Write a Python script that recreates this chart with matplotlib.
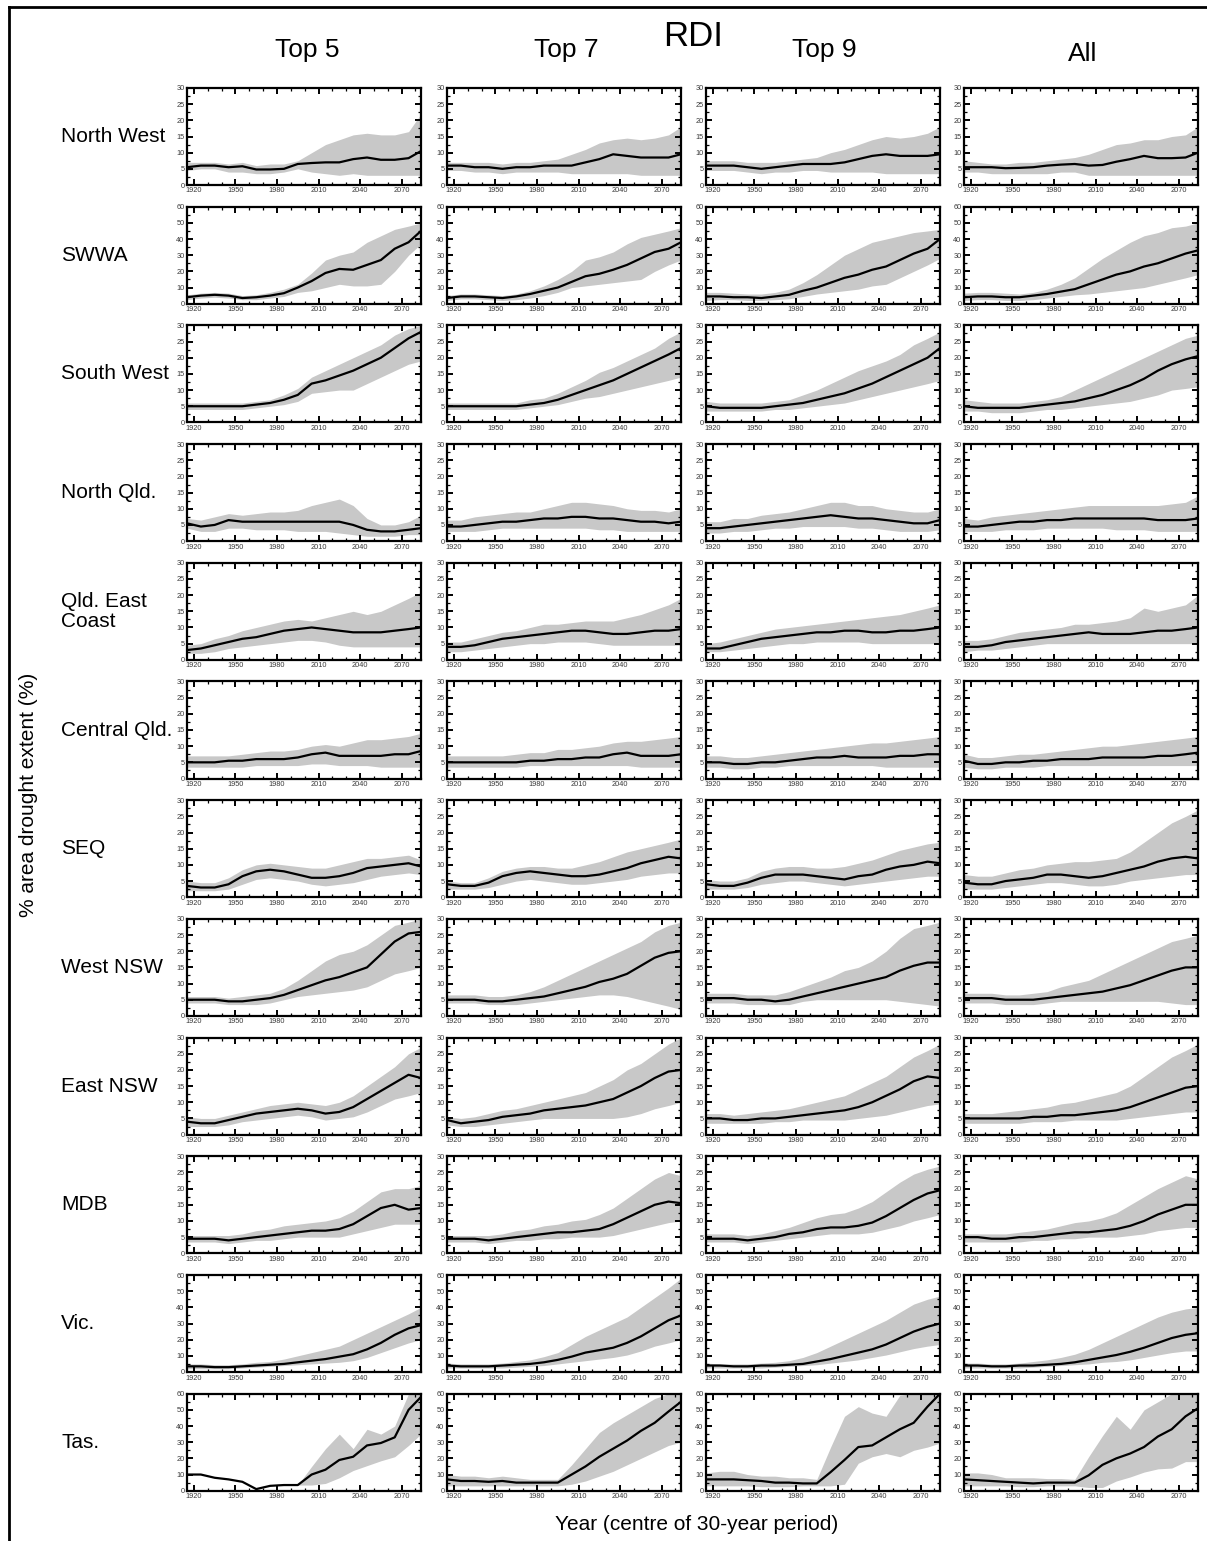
import matplotlib
matplotlib.use("Agg")
import matplotlib.pyplot as plt
from matplotlib.lines import Line2D
from matplotlib.ticker import MultipleLocator

plt.rcParams['font.family'] = ['Liberation Sans', 'DejaVu Sans']

# Centre year of each 30-year window
YEARS = [1915, 1925, 1935, 1945, 1955, 1965, 1975, 1985, 1995,
         2005, 2015, 2025, 2035, 2045, 2055, 2065, 2075, 2084]

GROUPS = ["Top 5", "Top 7", "Top 9", "All"]
REGIONS = ["North West", "SWWA", "South West", "North Qld.", "Qld. East\nCoast",
           "Central Qld.", "SEQ", "West NSW", "East NSW", "MDB", "Vic.", "Tas."]
Y_MAX = [30, 60, 30, 30, 30, 30, 30, 30, 30, 30, 60, 60]
X_TICKS = [1920, 1950, 1980, 2010, 2040, 2070]

# Each region: ensemble median and range for Top 5, Top 7, Top 9, All models
north_west_mid = [
    [5.5, 6, 6, 5.5, 5.8, 4.8, 4.8, 5, 6.5, 6.8, 7, 7, 8, 8.5, 7.8, 7.8, 8.3, 10.5],
    [6, 6, 5.5, 5.5, 5, 5.5, 5.5, 6, 6, 6, 7, 8, 9.5, 9, 8.5, 8.5, 8.5, 9.5],
    [6, 6, 6, 5.5, 5, 5.5, 6, 6.5, 6.5, 6.5, 7, 8, 9, 9.5, 9, 9, 9, 9.5],
    [5.5, 5.5, 5.5, 5.2, 5.3, 5.5, 6, 6.3, 6.5, 6, 6.2, 7.2, 8, 9, 8.3, 8.3, 8.5, 10],
]
north_west_lo = [
    [4.5, 5, 5, 4, 4, 3.5, 3.5, 4, 5, 4, 3.5, 3, 3.5, 3, 3, 3, 3, 3],
    [4.5, 4.5, 4, 4, 3.5, 4, 4, 4, 4, 3.5, 3.5, 3.5, 3.5, 3.5, 3, 3, 3, 3],
    [4.5, 4.5, 4.5, 4, 3.5, 4, 4, 4.5, 4.5, 4, 4, 4, 4, 3.5, 3.5, 3.5, 3.5, 3.5],
    [4, 4, 3.5, 3.5, 3.5, 3.5, 3.5, 4, 4, 3, 3, 3, 3, 3, 3, 3, 3, 3],
]
north_west_hi = [
    [7, 7, 7, 6.5, 7, 6, 6.5, 6.5, 7.5, 10, 12.5, 14, 15.5, 16, 15.5, 15.5, 16.5, 22],
    [7, 7, 7, 7, 6.5, 7, 7, 7.5, 8, 9.5, 11, 13, 14, 14.5, 14, 14.5, 15.5, 18],
    [7.5, 7.5, 7.5, 7, 7, 7, 7.5, 8, 8.5, 10, 11, 12.5, 14, 15, 14.5, 15, 16, 18],
    [7.5, 7, 6.5, 6.5, 7, 7, 7.5, 8, 8.5, 9.5, 11, 12.5, 13, 14, 14, 15, 15.5, 18],
]

swwa_mid = [
    [4, 5, 5.5, 5, 3.5, 4, 5, 6.5, 10, 14, 19, 21.5, 21, 24, 27, 34, 38, 45],
    [3.5, 4.5, 4.5, 4, 3.5, 4.5, 6, 8, 10, 13.5, 17, 18.5, 21, 24, 28, 32, 34, 38],
    [4.5, 4.5, 4, 4, 3.5, 4.5, 5.5, 8, 10, 13, 16, 18, 21, 23, 27, 31, 34, 40],
    [4, 4.5, 4.5, 4, 4, 5, 6, 7.5, 9, 12, 15, 18, 20, 23, 25, 28, 31, 33],
]
swwa_lo = [
    [2.5, 3.5, 4, 3.5, 2.5, 2.5, 3.5, 4.5, 7, 8, 10, 12, 11, 11, 12, 20, 30, 37],
    [2, 3, 3, 2.5, 2, 2.5, 3.5, 5, 7, 10, 11, 12, 13, 14, 15, 20, 24, 27],
    [2, 2.5, 2.5, 2, 2, 2.5, 3, 4.5, 6, 7, 8, 9, 11, 12, 16, 20, 24, 28],
    [2, 2.5, 2.5, 2, 2, 2.5, 3.5, 4.5, 5.5, 6, 7, 8, 9, 10, 12, 14, 16, 18],
]
swwa_hi = [
    [5.5, 6.5, 7, 6.5, 5, 5.5, 7, 9, 12, 19, 27, 30, 32, 38, 42, 46, 48, 50],
    [5, 6, 6, 5.5, 5, 6, 8, 11, 15, 20, 27, 29, 32, 37, 41, 43, 45, 47],
    [7, 7, 6.5, 6, 6, 7, 9, 13, 18, 24, 30, 34, 38, 40, 42, 44, 45, 46],
    [6.5, 7, 7, 6.5, 6, 7, 9, 12, 16, 22, 28, 33, 38, 42, 44, 47, 48, 50],
]

south_west_mid = [
    [5, 5, 5, 5, 5, 5.5, 6, 7, 8.5, 12, 13, 14.5, 16, 18, 20, 23, 26, 28],
    [5, 5, 5, 5, 5, 5, 5.5, 6, 7, 8.5, 10, 11.5, 13, 15, 17, 19, 21, 23],
    [5, 4.5, 4.5, 4.5, 4.5, 5, 5.5, 6, 7, 8, 9, 10.5, 12, 14, 16, 18, 20, 23],
    [5, 4.5, 4.5, 4.5, 4.5, 5, 5.5, 6, 6.5, 7.5, 8.5, 10, 11.5, 13.5, 16, 18, 19.5, 20.5],
]
south_west_lo = [
    [4, 4, 4, 4, 4, 4.5, 5, 5.5, 6.5, 9, 9.5, 10, 10, 12, 14, 16, 18, 19],
    [4, 4, 4, 4, 4, 4, 4.5, 5, 5.5, 6.5, 7.5, 8, 9, 10, 11, 12, 13, 14],
    [3.5, 3.5, 3.5, 3.5, 3.5, 4, 4, 4.5, 5, 5.5, 6, 7, 8, 9, 10, 11, 12, 13],
    [3.5, 3.5, 3, 3, 3, 3.5, 4, 4, 4.5, 5, 5.5, 6, 6.5, 7.5, 8.5, 10, 10.5, 11],
]
south_west_hi = [
    [6, 6, 6, 6, 6, 6.5, 7, 8.5, 10.5, 14, 16, 18, 20, 22, 24, 27, 29, 30],
    [6, 6, 6, 6, 6, 6, 7, 7.5, 9, 11, 13, 15.5, 17, 19, 21, 23, 26, 28],
    [6.5, 6, 6, 6, 6, 6.5, 7, 8.5, 10, 12, 14, 16, 17.5, 19, 21, 24, 26, 28],
    [7, 6.5, 6, 6, 6, 6.5, 7, 8, 10, 12, 14, 16, 18, 20, 22, 24, 26, 27],
]

north_qld_mid = [
    [5.5, 4.5, 5, 6.5, 6, 6, 6, 6, 6, 6, 6, 6, 5, 3.5, 3, 3, 3.5, 4],
    [4.5, 4.5, 5, 5.5, 6, 6, 6.5, 7, 7, 7.5, 7.5, 7, 7, 6.5, 6, 6, 5.5, 6],
    [4, 4, 4.5, 5, 5.5, 6, 6.5, 7, 7.5, 8, 7.5, 7, 7, 6.5, 6, 5.5, 5.5, 6.5],
    [4.5, 4.5, 5, 5.5, 6, 6, 6.5, 6.5, 7, 7, 7, 7, 7, 7, 6.5, 6.5, 6.5, 7],
]
north_qld_lo = [
    [4, 3, 3, 4, 4, 3.5, 3.5, 3.5, 3, 3, 3, 2.5, 2, 1.5, 1.5, 1.5, 2, 2],
    [3, 3, 3, 3.5, 4, 4, 4, 4, 4, 4, 4, 3.5, 3.5, 3, 3, 3, 3, 3],
    [2.5, 2.5, 3, 3, 3.5, 4, 4, 4.5, 4.5, 4.5, 4.5, 4, 4, 3.5, 3, 3, 3, 3.5],
    [3, 3, 3, 3.5, 3.5, 3.5, 4, 4, 4, 4, 4, 3.5, 3.5, 3.5, 3, 3, 3, 3],
]
north_qld_hi = [
    [7, 6.5, 7.5, 8.5, 8, 8.5, 9, 9, 9.5, 11, 12, 13, 11, 7, 5, 5, 6, 8],
    [6.5, 6.5, 7.5, 8, 8.5, 9, 9, 10, 11, 12, 12, 11.5, 11, 10, 9.5, 9.5, 9, 10],
    [6, 6, 7, 7, 8, 8.5, 9, 10, 11, 12, 12, 11, 11, 10, 9.5, 9, 9, 10],
    [7, 6.5, 7.5, 8, 8.5, 9, 9.5, 10, 10.5, 11, 11, 11, 11, 11, 11, 11.5, 12, 14],
]

qld_east_mid = [
    [3, 3.5, 4.5, 5.5, 6.5, 7, 8, 9, 9.5, 10, 9.5, 9, 8.5, 8.5, 8.5, 9, 9.5, 10],
    [4, 4, 4.5, 5.5, 6.5, 7, 7.5, 8, 8.5, 9, 9, 8.5, 8, 8, 8.5, 9, 9, 9.5],
    [3.5, 3.5, 4.5, 5.5, 6.5, 7, 7.5, 8, 8.5, 8.5, 9, 9, 8.5, 8.5, 9, 9, 9.5, 10],
    [4, 4, 4.5, 5.5, 6, 6.5, 7, 7.5, 8, 8.5, 8, 8, 8, 8.5, 9, 9, 9.5, 10],
]
qld_east_lo = [
    [2, 2, 2.5, 3.5, 4, 4.5, 5, 5.5, 6, 6, 5.5, 4.5, 4, 4, 4, 4, 4, 4],
    [2.5, 2.5, 3, 3.5, 4, 4.5, 5, 5, 5.5, 5.5, 5.5, 5, 4.5, 4.5, 4.5, 4.5, 4.5, 4.5],
    [2.5, 2.5, 3, 3.5, 4, 4.5, 5, 5, 5.5, 5.5, 5.5, 5.5, 5, 5, 5, 5, 5, 5],
    [2.5, 3, 3, 3.5, 4, 4.5, 5, 5, 5, 5, 5, 5, 5, 5, 5, 5, 5, 5],
]
qld_east_hi = [
    [4.5, 5, 6.5, 7.5, 9, 10, 11, 12, 12.5, 12, 13, 14, 15, 14, 15, 17, 19, 21],
    [5.5, 5.5, 6.5, 7.5, 8.5, 9, 10, 11, 11, 11.5, 12, 12, 12, 13, 14, 15.5, 17, 19],
    [5, 5.5, 6.5, 7.5, 8.5, 9.5, 10, 10.5, 11, 11.5, 12, 12.5, 13, 13.5, 14, 15, 16, 17],
    [6, 6, 6.5, 7.5, 8.5, 9, 9.5, 10, 11, 11, 11.5, 12, 13, 16, 15, 16, 17, 20],
]

central_qld_mid = [
    [5, 5, 5, 5.5, 5.5, 6, 6, 6, 6.5, 7.5, 8, 7, 7, 7, 7, 7.5, 7.5, 8.5],
    [5, 5, 5, 5, 5, 5, 5.5, 5.5, 6, 6, 6.5, 6.5, 7.5, 8, 7, 7, 7, 7.5],
    [5, 5, 4.5, 4.5, 5, 5, 5.5, 6, 6.5, 6.5, 7, 6.5, 6.5, 6.5, 7, 7, 7.5, 7.5],
    [5.5, 4.5, 4.5, 5, 5, 5.5, 5.5, 6, 6, 6, 6.5, 6.5, 6.5, 6.5, 7, 7, 7.5, 8],
]
central_qld_lo = [
    [3.5, 3.5, 3.5, 3.5, 3.5, 4, 4, 4, 4, 4.5, 4.5, 4, 4, 4, 3.5, 3.5, 3.5, 3.5],
    [3.5, 3.5, 3.5, 3.5, 3.5, 3.5, 4, 4, 4, 4, 4, 4, 4, 4, 3.5, 3.5, 3.5, 3.5],
    [3.5, 3.5, 3, 3, 3.5, 3.5, 4, 4, 4, 4, 4, 4, 4, 3.5, 3.5, 3.5, 3.5, 3.5],
    [3.5, 3, 3, 3.5, 3.5, 3.5, 4, 4, 4, 4, 4, 4, 4, 4, 4, 4, 4, 4],
]
central_qld_hi = [
    [7, 7, 7, 7, 7.5, 8, 8.5, 8.5, 9, 10, 10.5, 10, 11, 12, 12, 12.5, 13, 14],
    [7, 7, 7, 7, 7, 7.5, 8, 8, 9, 9, 9.5, 10, 11, 11.5, 11.5, 12, 12.5, 13],
    [7, 7, 6.5, 6.5, 7, 7.5, 8, 8.5, 9, 9.5, 10, 10.5, 11, 11, 11.5, 12, 12.5, 13],
    [7.5, 6.5, 6.5, 7, 7.5, 7.5, 8, 8.5, 9, 9.5, 10, 10, 10.5, 11, 11.5, 12, 12.5, 13],
]

seq_mid = [
    [3.5, 3, 3, 4, 6.5, 8, 8.5, 8, 7, 6, 6, 6.5, 7.5, 9, 9.5, 10, 10.5, 9.5],
    [4, 3.5, 3.5, 4.5, 6.5, 7.5, 8, 7.5, 7, 6.5, 6.5, 7, 8, 9, 10.5, 11.5, 12.5, 12],
    [4, 3.5, 3.5, 4.5, 6, 7, 7, 7, 6.5, 6, 5.5, 6.5, 7, 8.5, 9.5, 10, 11, 10.5],
    [4.5, 4, 4, 5, 5.5, 6, 7, 7, 6.5, 6, 6.5, 7.5, 8.5, 9.5, 11, 12, 12.5, 12],
]
seq_lo = [
    [2, 2, 2, 2.5, 4, 5.5, 6, 5.5, 5, 4, 3.5, 4, 4.5, 5.5, 6.5, 7, 7.5, 7],
    [2.5, 2.5, 2.5, 3, 4, 5, 5.5, 5, 4.5, 4, 4, 4.5, 5, 5.5, 6.5, 7, 7.5, 7.5],
    [2.5, 2.5, 2.5, 3, 4, 4.5, 5, 5, 4.5, 4, 3.5, 4, 4.5, 5, 5.5, 6, 6.5, 6.5],
    [2.5, 2.5, 2.5, 3, 3.5, 4, 4.5, 4.5, 4, 3.5, 3.5, 4, 5, 5.5, 6, 6.5, 7, 7],
]
seq_hi = [
    [5, 4.5, 4.5, 6, 8.5, 10, 10.5, 10, 9.5, 9, 9, 10, 11, 12, 12, 12.5, 13, 11.5],
    [5, 4.5, 4.5, 6, 8, 9, 9.5, 9.5, 9, 9, 10, 11, 12.5, 14, 15, 16, 17, 18],
    [5.5, 5, 5, 6, 8, 9, 9.5, 9.5, 9, 9, 9.5, 10.5, 11.5, 13, 14.5, 15.5, 16.5, 17],
    [7, 6.5, 6.5, 7.5, 8.5, 9, 10, 10.5, 11, 11, 11.5, 12, 14, 17, 20, 23, 25, 27],
]

west_nsw_mid = [
    [5, 5, 5, 4.5, 4.5, 5, 5.5, 6.5, 8, 9.5, 11, 12, 13.5, 15, 19, 23, 25.5, 26],
    [5, 5, 5, 4.5, 4.5, 5, 5.5, 6, 7, 8, 9, 10.5, 11.5, 13, 15.5, 18, 19.5, 20],
    [5.5, 5.5, 5.5, 5, 5, 4.5, 5, 6, 7, 8, 9, 10, 11, 12, 14, 15.5, 16.5, 16.5],
    [5.5, 5.5, 5.5, 5, 5, 5, 5.5, 6, 6.5, 7, 7.5, 8.5, 9.5, 11, 12.5, 14, 15, 15],
]
west_nsw_lo = [
    [4, 4, 4, 3.5, 3.5, 3.5, 4, 5, 6, 6.5, 7, 7.5, 8, 9, 11, 13, 14, 15],
    [4, 4, 4, 3.5, 3.5, 3.5, 4, 4.5, 5, 5.5, 6, 6.5, 6.5, 6, 5, 4, 3, 2],
    [4, 4, 4, 3.5, 3.5, 3.5, 3.5, 4.5, 5, 5, 5, 5, 5, 5, 4.5, 4, 3.5, 3],
    [4, 4, 4, 3.5, 3.5, 3.5, 4, 4.5, 4.5, 4.5, 4.5, 4.5, 4.5, 4.5, 4.5, 4, 3.5, 3.5],
]
west_nsw_hi = [
    [6, 6, 6, 5.5, 6, 6.5, 7, 8.5, 11, 14, 17, 19, 20, 22, 25, 28, 29, 30],
    [6.5, 6.5, 6.5, 6, 6, 6.5, 7.5, 9, 11, 13, 15, 17, 19, 21, 23, 26, 28, 29],
    [7, 7, 7, 6.5, 6.5, 6.5, 7.5, 9, 10.5, 12, 14, 15, 17, 20, 24, 27, 28, 29],
    [7, 7, 7, 6.5, 6.5, 7, 7.5, 9, 10, 11, 13, 15, 17, 19, 21, 23, 24, 25],
]

east_nsw_mid = [
    [4, 3.5, 3.5, 4.5, 5.5, 6.5, 7, 7.5, 8, 7.5, 6.5, 7, 8.5, 11, 13.5, 16, 18.5, 17.5],
    [4.5, 3.5, 4, 4.5, 5.5, 6, 6.5, 7.5, 8, 8.5, 9, 10, 11, 13, 15, 17.5, 19.5, 20],
    [5, 5, 4.5, 4.5, 5, 5, 5.5, 6, 6.5, 7, 7.5, 8.5, 10, 12, 14, 16.5, 18, 17.5],
    [5, 5, 5, 5, 5, 5.5, 5.5, 6, 6, 6.5, 7, 7.5, 8.5, 10, 11.5, 13, 14.5, 15],
]
east_nsw_lo = [
    [2.5, 2.5, 2.5, 3, 4, 4.5, 5, 5.5, 6, 5.5, 4.5, 5, 5.5, 7, 9, 11, 12, 13],
    [3, 2.5, 2.5, 3, 3.5, 4, 4.5, 5, 5, 5, 5, 5, 5, 5.5, 6.5, 8, 9, 10],
    [3.5, 3.5, 3.5, 3.5, 3.5, 4, 4, 4.5, 4.5, 4.5, 4.5, 5, 5.5, 6, 7, 8, 9, 9.5],
    [3.5, 3.5, 3.5, 3.5, 3.5, 4, 4, 4, 4.5, 4.5, 4.5, 4.5, 5, 5.5, 6, 6.5, 7, 7],
]
east_nsw_hi = [
    [5.5, 5, 5, 6, 7, 8, 9, 9.5, 10, 9.5, 9, 10, 12, 15, 18, 21, 25, 27],
    [5.5, 5, 5.5, 6.5, 7.5, 8, 9, 10, 11, 12, 13, 15, 17, 20, 22, 25, 28, 30],
    [6.5, 6.5, 6, 6.5, 7, 7.5, 8, 9, 10, 11, 12, 14, 16, 18, 21, 24, 26, 28],
    [6.5, 6.5, 6.5, 7, 7.5, 8, 8.5, 9.5, 10, 11, 12, 13, 15, 18, 21, 24, 26, 28],
]

mdb_mid = [
    [4.5, 4.5, 4.5, 4, 4.5, 5, 5.5, 6, 6.5, 7, 7, 7.5, 9, 11.5, 14, 15, 13.5, 14],
    [4.5, 4.5, 4.5, 4, 4.5, 5, 5.5, 6, 6.5, 6.5, 7, 7.5, 9, 11, 13, 15, 16, 15.5],
    [4.5, 4.5, 4.5, 4, 4.5, 5, 6, 6.5, 7.5, 8, 8, 8.5, 9.5, 11.5, 14, 16.5, 18.5, 19.5],
    [5, 5, 4.5, 4.5, 5, 5, 5.5, 6, 6.5, 6.5, 7, 7.5, 8.5, 10, 12, 13.5, 15, 15],
]
mdb_lo = [
    [3.5, 3.5, 3.5, 3, 3.5, 4, 4, 4.5, 5, 5, 5, 5, 6, 7, 8, 9, 9, 9],
    [3.5, 3.5, 3.5, 3, 3.5, 4, 4, 4.5, 4.5, 5, 5, 5, 5.5, 6.5, 7.5, 8.5, 9.5, 10],
    [3.5, 3.5, 3.5, 3, 3.5, 4, 4.5, 5, 5.5, 6, 6, 6, 6.5, 7.5, 8.5, 10, 11, 12],
    [3.5, 3.5, 3.5, 3.5, 3.5, 4, 4, 4.5, 4.5, 5, 5, 5, 5.5, 6, 7, 7.5, 8, 8],
]
mdb_hi = [
    [5.5, 5.5, 5.5, 5.5, 6, 7, 7.5, 8.5, 9, 9.5, 10, 11, 13, 16, 19, 20, 20, 21],
    [5.5, 5.5, 5.5, 5.5, 6, 7, 7.5, 8.5, 9, 10, 10.5, 12, 14, 17, 20, 23, 25, 24],
    [6, 6, 6, 5.5, 6, 7, 8, 9.5, 11, 12, 12.5, 14, 16, 19, 22, 24.5, 26, 27],
    [6, 6, 6, 6, 6.5, 7, 7.5, 8.5, 9.5, 10, 11, 12.5, 15, 17.5, 20, 22, 24, 23],
]

vic_mid = [
    [3.5, 3.5, 3, 3, 3.5, 4, 4.5, 5, 6, 7, 8, 9.5, 11, 14, 18, 23, 27, 29],
    [4, 3.5, 3.5, 3.5, 4, 4.5, 5, 6, 7.5, 9.5, 12, 13.5, 15, 18, 22, 27, 32, 35],
    [4, 4, 3.5, 3.5, 4, 4, 4.5, 5, 6.5, 8, 10, 12, 14, 17, 21, 25, 28, 30],
    [4, 4, 3.5, 3.5, 4, 4, 4.5, 5, 6, 7.5, 9, 10.5, 12.5, 15, 18, 21, 23, 24],
]
vic_lo = [
    [2, 2, 2, 2, 2.5, 3, 3.5, 4, 4.5, 5, 5.5, 6, 7, 9, 12, 15, 18, 20],
    [2.5, 2.5, 2.5, 2.5, 2.5, 3, 3.5, 4, 5, 6, 7, 8, 9, 10.5, 13, 16, 18, 20],
    [2.5, 2.5, 2.5, 2.5, 2.5, 3, 3.5, 4, 4.5, 5.5, 6.5, 7.5, 9, 10.5, 12.5, 14.5, 16, 17],
    [2.5, 2.5, 2.5, 2.5, 2.5, 3, 3.5, 4, 4.5, 5, 6, 6.5, 7.5, 9, 10.5, 12, 13, 13],
]
vic_hi = [
    [5, 5, 4.5, 4.5, 5, 6, 6.5, 8, 10, 12, 14, 16, 20, 24, 28, 32, 36, 40],
    [5.5, 5, 5, 5, 5.5, 6.5, 7.5, 9.5, 12, 17, 22, 26, 30, 34, 40, 46, 52, 58],
    [5.5, 5, 5, 5, 5.5, 6, 7, 9, 12, 16, 20, 24, 28, 32, 37, 42, 45, 47],
    [5.5, 5.5, 5, 5, 5.5, 6.5, 7.5, 9, 11, 14, 18, 22, 26, 30, 34, 37, 39, 40],
]

tas_mid = [
    [10, 10, 8, 7, 5.5, 1, 3, 3.5, 3.5, 10, 13, 19, 21, 28, 29.5, 33, 50, 58],
    [7, 6, 6, 5.5, 6, 5, 5, 5, 5, 10, 15, 21, 26, 31, 37, 42, 49, 55],
    [7, 7, 7, 6.5, 6, 5, 5, 4.5, 4.5, 11.5, 19, 27, 28, 33, 38, 42, 52, 60],
    [7, 6.5, 6, 5.5, 5, 4.5, 5, 5, 5, 9.5, 16, 20, 23, 27, 33.5, 38, 46, 51],
]
tas_lo = [
    [10, 10, 8, 7, 5.5, 1, 3, 3.5, 3.5, 3.5, 4.5, 8, 12.5, 15.5, 18.5, 21, 28, 35],
    [3, 3, 3, 3, 3, 3, 3, 3, 3, 4, 6, 9, 12, 16, 20, 24, 28, 30],
    [3, 3, 3, 3, 2.5, 2.5, 2.5, 3, 3, 3, 4, 17, 21, 23, 21, 25, 27, 29.5],
    [3, 3, 3, 3, 2.5, 2.5, 3, 3, 3, 2, 2, 6, 8.5, 11.5, 13.5, 14, 18, 18],
]
tas_hi = [
    [10, 10, 8, 7, 5.5, 1, 3, 3.5, 3.5, 15, 26, 35, 26, 38, 35, 40, 60, 60],
    [10, 9, 9, 8, 9, 8, 7, 7, 7, 16, 26, 36, 42, 47, 52, 57, 60, 60],
    [11, 12, 12, 10, 9, 9, 8, 8, 7, 27, 46, 52, 48, 46, 59, 60, 60, 60],
    [11, 11, 10, 8, 8, 8, 7.5, 7.5, 7, 21, 34, 46, 38, 50, 55, 60, 60, 60],
]

REGION_SERIES = [
    (north_west_mid, north_west_lo, north_west_hi),
    (swwa_mid, swwa_lo, swwa_hi),
    (south_west_mid, south_west_lo, south_west_hi),
    (north_qld_mid, north_qld_lo, north_qld_hi),
    (qld_east_mid, qld_east_lo, qld_east_hi),
    (central_qld_mid, central_qld_lo, central_qld_hi),
    (seq_mid, seq_lo, seq_hi),
    (west_nsw_mid, west_nsw_lo, west_nsw_hi),
    (east_nsw_mid, east_nsw_lo, east_nsw_hi),
    (mdb_mid, mdb_lo, mdb_hi),
    (vic_mid, vic_lo, vic_hi),
    (tas_mid, tas_lo, tas_hi),
]

# ---- layout (pixels on a 1207 x 1541 canvas) ----
W, H = 1207, 1541
COL_LEFT = [187, 447, 706, 964]
PANEL_W = 234
ROW_TOP0 = 88
ROW_PITCH = 118.7
PANEL_H = 97

fig = plt.figure(figsize=(W / 100, H / 100), dpi=100)
fig.patch.set_facecolor("white")

BAND = "#c8c8c8"

for r, region in enumerate(REGIONS):
    mid, lo, hi = REGION_SERIES[r]
    ymax = Y_MAX[r]
    top = ROW_TOP0 + r * ROW_PITCH
    for c in range(4):
        ax = fig.add_axes([COL_LEFT[c] / W, 1 - (top + PANEL_H) / H,
                           PANEL_W / W, PANEL_H / H])
        ax.fill_between(YEARS, lo[c], hi[c], color=BAND, linewidth=0, zorder=1)
        ax.plot(YEARS, mid[c], color="black", linewidth=1.6, zorder=2)
        ax.set_xlim(1915, 2084)
        ax.set_ylim(0, ymax)
        ax.set_xticks(X_TICKS)
        ax.xaxis.set_minor_locator(MultipleLocator(10))
        ax.yaxis.set_major_locator(MultipleLocator(ymax / 6))
        ax.yaxis.set_minor_locator(MultipleLocator(ymax / 12))
        ax.tick_params(which="both", direction="in", top=True, right=True,
                       labelsize=5.3, labelcolor="#3a3a3a", pad=1.8)
        ax.tick_params(which="major", length=4, width=1.4)
        ax.tick_params(which="minor", length=2, width=0.9)
        for sp in ax.spines.values():
            sp.set_linewidth(1.6)
    fig.text(61 / W, 1 - (top + PANEL_H / 2) / H, region, fontsize=15,
             ha="left", va="center", linespacing=1.1)

# column headings and overall title
for label, x, y in zip(GROUPS, [307, 566, 824, 1083], [50, 50, 50, 54]):
    fig.text(x / W, 1 - y / H, label, fontsize=19, ha="center", va="center")
fig.text(693 / W, 1 - 36 / H, "RDI", fontsize=25, ha="center", va="center")

fig.text(697 / W, 1 - 1525 / H, "Year (centre of 30-year period)", fontsize=15,
         ha="center", va="center")
fig.text(29 / W, 1 - 795 / H, "% area drought extent (%)", fontsize=15,
         ha="center", va="center", rotation=90)

# frame lines along the top and left edges
fig.add_artist(Line2D([9 / W, 1.0], [1 - 7 / H, 1 - 7 / H], color="black",
                      linewidth=2, transform=fig.transFigure))
fig.add_artist(Line2D([9 / W, 9 / W], [1 - 7 / H, 0.0], color="black",
                      linewidth=2, transform=fig.transFigure))

fig.savefig("out.png", dpi=100)
